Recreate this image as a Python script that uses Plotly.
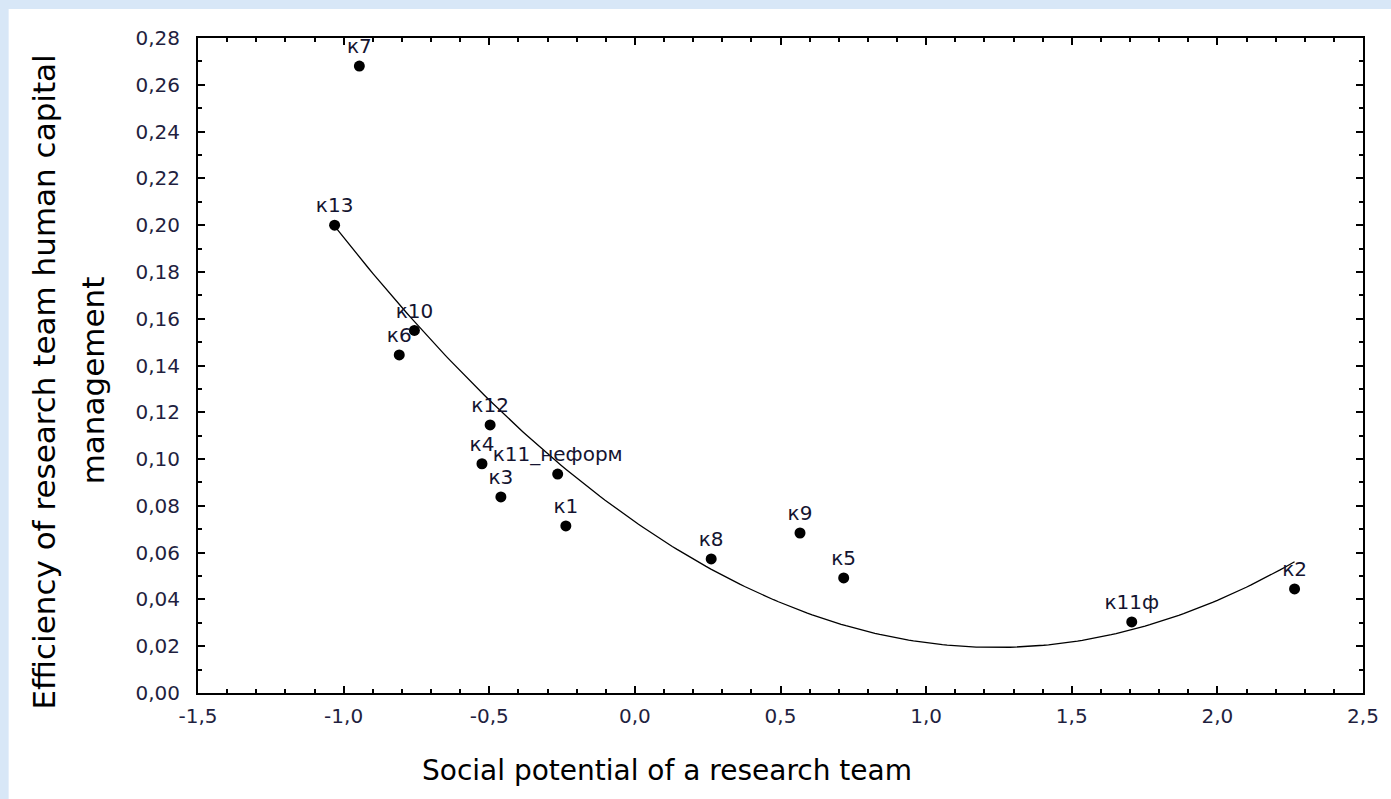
import numpy as np
import plotly.graph_objects as go

labels = ["к7", "к13", "к10", "к6", "к12", "к4", "к11_неформ", "к3", "к1", "к8", "к9", "к5", "к11ф", "к2"]
social = [-0.946, -1.031, -0.757, -0.809, -0.497, -0.525, -0.265, -0.460, -0.237, 0.262, 0.567, 0.717, 1.706, 2.265]
efficiency = [0.268, 0.200, 0.155, 0.1445, 0.1146, 0.098, 0.0936, 0.0838, 0.0714, 0.0573, 0.0684, 0.0492, 0.0304, 0.0445]

# quadratic fit coefficients (a, b, c)
fit_coef = [0.0349, -0.0866, 0.0732]
fit_range = [-1.031, 2.265]

x_tick_vals = [-1.5, -1.0, -0.5, 0.0, 0.5, 1.0, 1.5, 2.0, 2.5]
x_tick_text = ["-1,5", "-1,0", "-0,5", "0,0", "0,5", "1,0", "1,5", "2,0", "2,5"]

x_title = "Social potential of a research team"
y_title_1 = "Efficiency of research team human capital"
y_title_2 = "management"

xs = np.linspace(fit_range[0], fit_range[1], 200)
ys = np.polyval(fit_coef, xs)

L, R, T, B = 198, 24, 38, 106
W, H = 1391, 799
pw, ph = W - L - R, H - T - B

def px(xp):
    return (xp - L) / pw

def py(yp):
    return (H - B - yp) / ph

fig = go.Figure()
fig.add_trace(go.Scatter(x=xs, y=ys, mode="lines", line=dict(color="black", width=1.3),
                         hoverinfo="skip", showlegend=False))
fig.add_trace(go.Scatter(x=social, y=efficiency, mode="markers+text", text=labels,
                         textposition="top center",
                         textfont=dict(family="DejaVu Sans", size=20, color="#141430"),
                         marker=dict(color="black", size=11), showlegend=False))

axis_common = dict(showline=True, linecolor="black", linewidth=2, mirror="allticks",
                   ticks="inside", ticklen=7, tickwidth=1.5, tickcolor="black",
                   showgrid=False, zeroline=False,
                   tickfont=dict(family="DejaVu Sans", size=20, color="#1f1f40"))

fig.update_xaxes(range=[-1.5, 2.5], tickmode="array", tickvals=x_tick_vals, ticktext=x_tick_text,
                 minor=dict(dtick=0.1, tick0=-1.5, ticks="inside", ticklen=4, tickcolor="black", tickwidth=1.5),
                 ticklabelstandoff=4, **axis_common)
fig.update_yaxes(range=[0, 0.28], dtick=0.02, tick0=0, tickformat=".2f",
                 minor=dict(dtick=0.01, ticks="inside", ticklen=4, tickcolor="black", tickwidth=1.5),
                 ticklabelstandoff=12, **axis_common)

fig.add_shape(type="rect", xref="paper", yref="paper", x0=px(8), x1=px(W + 5), y0=py(H + 5), y1=py(9),
              fillcolor="white", line=dict(width=0), layer="below")

fig.add_annotation(text=x_title, xref="paper", yref="paper", x=px(669), y=py(770), showarrow=False,
                   font=dict(family="DejaVu Sans", size=28, color="black"), xanchor="center", yanchor="middle")
fig.add_annotation(text=y_title_1, xref="paper", yref="paper", x=px(43), y=py(382), showarrow=False,
                   textangle=-90, font=dict(family="DejaVu Sans", size=31, color="black"),
                   xanchor="center", yanchor="middle")
fig.add_annotation(text=y_title_2, xref="paper", yref="paper", x=px(93), y=py(380), showarrow=False,
                   textangle=-90, font=dict(family="DejaVu Sans", size=31, color="black"),
                   xanchor="center", yanchor="middle")

fig.update_layout(width=W, height=H, margin=dict(l=L, r=R, t=T, b=B),
                  paper_bgcolor="#d8e7f7", plot_bgcolor="white", separators=", ")

fig.write_html("out.html")
